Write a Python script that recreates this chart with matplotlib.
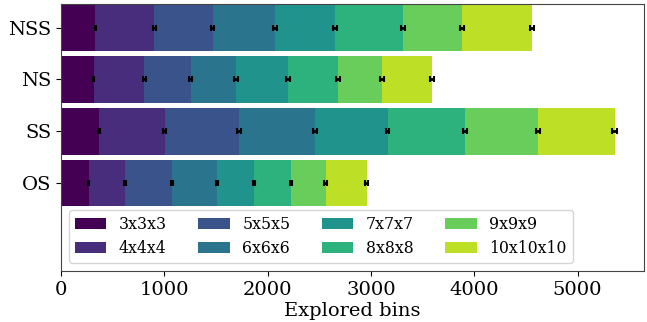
import numpy as np
import matplotlib
matplotlib.use("Agg")
import matplotlib.pyplot as plt

plt.rcParams['font.family'] = 'DejaVu Serif'

methods = ["OS", "SS", "NS", "NSS"]
sizes = ["3x3x3", "4x4x4", "5x5x5", "6x6x6", "7x7x7", "8x8x8", "9x9x9", "10x10x10"]

# explored bins per grid size (stacked), rows follow `methods`
os_bins = [269, 354, 451, 438, 358, 357, 335, 396]
ss_bins = [372, 635, 718, 734, 702, 747, 709, 740]
ns_bins = [317, 490, 451, 438, 502, 483, 425, 486]
nss_bins = [333, 570, 567, 602, 583, 657, 570, 677]

# standard errors per grid size
os_err = [6, 10, 12, 12, 12, 12, 12, 14]
ss_err = [8, 14, 16, 18, 18, 18, 18, 20]
ns_err = [6, 14, 16, 16, 18, 18, 18, 18]
nss_err = [6, 14, 16, 18, 18, 18, 18, 20]

bins = np.array([os_bins, ss_bins, ns_bins, nss_bins])
errs = np.array([os_err, ss_err, ns_err, nss_err])
colors = plt.cm.viridis(np.linspace(0, 0.9, len(sizes)))

fig, ax = plt.subplots(figsize=(6.47, 3.22), dpi=100)
y = np.arange(len(methods))
left = np.zeros(len(methods))
for i, s in enumerate(sizes):
    ax.barh(y, bins[:, i], left=left, height=0.9, color=colors[i], label=s)
    left = left + bins[:, i]
    ax.errorbar(left, y, xerr=errs[:, i], fmt="none", ecolor="black",
                elinewidth=2, capsize=2.5, capthick=1.5)

ax.set_yticks(y)
ax.set_yticklabels(methods)
ax.set_ylim(-1.7, 3.46)
ax.set_xlim(0, 5640)
ax.tick_params(axis="both", labelsize=14)
ax.set_xlabel("Explored bins", fontsize=14, labelpad=2)
for sp in ax.spines.values():
    sp.set_color("#444444")
ax.legend(ncol=4, loc="lower left", fontsize=11.3, labelspacing=0.45,
          borderaxespad=0.5)

plt.subplots_adjust(left=0.094, right=0.995, top=0.988, bottom=0.158)
plt.savefig("out.png", dpi=100)
